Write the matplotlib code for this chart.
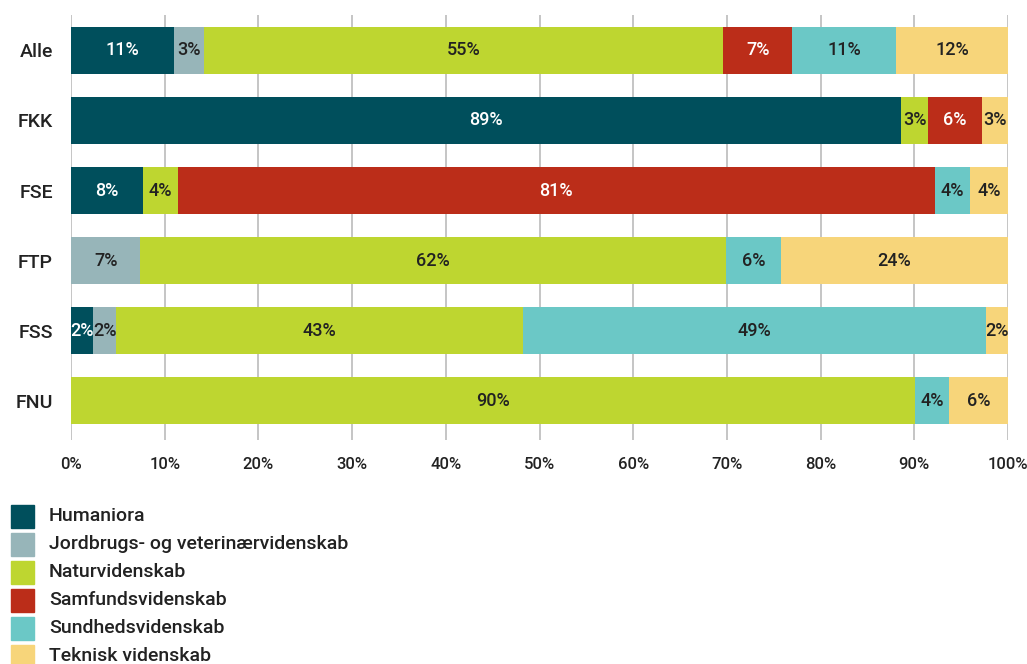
import matplotlib
matplotlib.use("Agg")
import matplotlib.pyplot as plt
from matplotlib.patches import Rectangle
import numpy as np

categories = ["Alle", "FKK", "FSE", "FTP", "FSS", "FNU"]
series_names = ["Humaniora", "Jordbrugs- og veterinærvidenskab", "Naturvidenskab",
                "Samfundsvidenskab", "Sundhedsvidenskab", "Teknisk videnskab"]
humaniora = [11.0, 88.6, 7.7, 0.0, 2.4, 0.0]
jordbrug = [3.2, 0.0, 0.0, 7.4, 2.4, 0.0]
natur = [55.4, 2.9, 3.7, 62.5, 43.4, 90.1]
samfund = [7.4, 5.7, 80.8, 0.0, 0.0, 0.0]
sundhed = [11.1, 0.0, 3.7, 5.9, 49.4, 3.6]
teknisk = [11.9, 2.8, 4.1, 24.2, 2.4, 6.3]
colors = ["#004f5c", "#97b5b9", "#bed630", "#bb2d19", "#6bc8c6", "#f7d57a"]
label_colors = ["white", "#222222", "#222222", "white", "#222222", "#222222"]
xticks = [0, 10, 20, 30, 40, 50, 60, 70, 80, 90, 100]

plt.rcParams['font.family'] = ['Roboto', 'DejaVu Sans']
txt = "#222222"

fig = plt.figure(figsize=(10.27, 6.64), dpi=100)
ax = fig.add_axes([71/1027, 1-440/664, (1008-71)/1027, (440-15)/664])

data = [humaniora, jordbrug, natur, samfund, sundhed, teknisk]
y = np.arange(len(categories))
left = np.zeros(len(categories))
for vals, c, lc in zip(data, colors, label_colors):
    v = np.array(vals)
    ax.barh(y, v, left=left, height=0.67, color=c, zorder=2)
    for yi, (l, w) in enumerate(zip(left, v)):
        if w > 0:
            ax.text(l + w/2, yi, f"{w:.0f}%", ha="center", va="center",
                    color=lc, fontsize=13, fontweight="medium", zorder=3)
    left = left + v

for xt in xticks:
    ax.axvline(xt, color="#c0c0c0", lw=1.3, zorder=1)

ax.set_xlim(0, 100)
ax.set_ylim(5.564, -0.507)
ax.set_xticks(xticks)
ax.set_xticklabels([f"{t}%" for t in xticks], fontsize=12, color=txt, fontweight="medium")
ax.set_yticks(y)
ax.set_yticklabels(categories, fontsize=14, color=txt, fontweight="medium")
ax.tick_params(axis="x", length=0, pad=12)
ax.tick_params(axis="y", length=0, pad=13)
for s in ax.spines.values():
    s.set_visible(False)

# legend
for i, (name, c) in enumerate(zip(series_names, colors)):
    yc = 516 + 28*i
    fig.patches.append(Rectangle((11/1027, 1-(yc+11.5)/664), 23/1027, 23/664,
                                 transform=fig.transFigure, color=c, figure=fig))
    fig.text(49/1027, 1-yc/664, name, ha="left", va="center", fontsize=14,
             color=txt, fontweight="medium")

fig.savefig("out.png", dpi=100)
